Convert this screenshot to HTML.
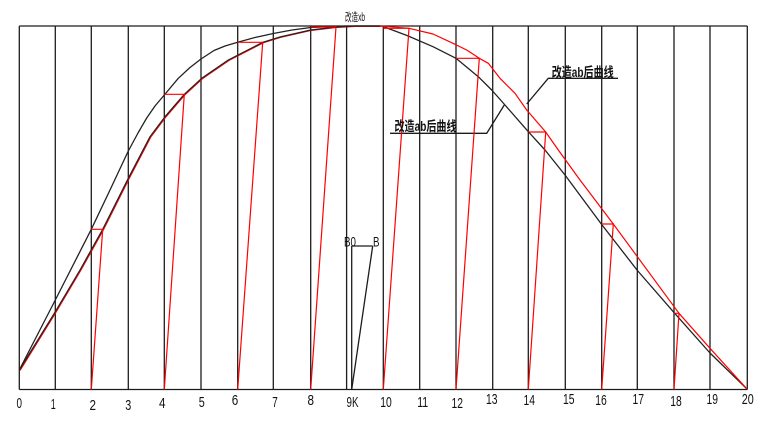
<!DOCTYPE html>
<html>
<head>
<meta charset="utf-8">
<style>
html,body{margin:0;padding:0;background:#fff;}
svg{display:block;}
.num{font-family:"Liberation Sans",sans-serif;font-size:15px;fill:#111;}
.cjk{font-family:"Liberation Sans","Noto Sans CJK SC",sans-serif;fill:#111;}
</style>
</head>
<body>
<svg width="771" height="426" viewBox="0 0 771 426" xmlns="http://www.w3.org/2000/svg">
<rect width="771" height="426" fill="#fff"/>
<g stroke="#1c1c1c" stroke-width="1.3" fill="none">
  <line x1="19.3" y1="26" x2="747.3" y2="26"/>
  <line x1="19.3" y1="389.5" x2="747.3" y2="389.5"/>
  <line x1="19.3" y1="26" x2="19.3" y2="389.5"/>
  <line x1="55.3" y1="26" x2="55.3" y2="389.5"/>
  <line x1="91.3" y1="26" x2="91.3" y2="389.5"/>
  <line x1="128.3" y1="26" x2="128.3" y2="389.5"/>
  <line x1="164.3" y1="26" x2="164.3" y2="389.5"/>
  <line x1="201" y1="26" x2="201" y2="389.5"/>
  <line x1="237.7" y1="26" x2="237.7" y2="389.5"/>
  <line x1="273.3" y1="26" x2="273.3" y2="389.5"/>
  <line x1="310.7" y1="26" x2="310.7" y2="389.5"/>
  <line x1="346.6" y1="26" x2="346.6" y2="389.5"/>
  <line x1="351.7" y1="246" x2="351.7" y2="389.5"/>
  <line x1="383.3" y1="26" x2="383.3" y2="389.5"/>
  <line x1="419.7" y1="26" x2="419.7" y2="389.5"/>
  <line x1="456" y1="26" x2="456" y2="389.5"/>
  <line x1="492.7" y1="26" x2="492.7" y2="389.5"/>
  <line x1="528.3" y1="26" x2="528.3" y2="389.5"/>
  <line x1="565.3" y1="26" x2="565.3" y2="389.5"/>
  <line x1="601.7" y1="26" x2="601.7" y2="389.5"/>
  <line x1="637.3" y1="26" x2="637.3" y2="389.5"/>
  <line x1="674" y1="26" x2="674" y2="389.5"/>
  <line x1="710" y1="26" x2="710" y2="389.5"/>
  <line x1="747.3" y1="26" x2="747.3" y2="389.5"/>
  <line x1="351.7" y1="246" x2="372.7" y2="246"/>
  <line x1="351.7" y1="389.5" x2="372.7" y2="246"/>
  <polyline points="526.7,104 548.3,78.3 618,78.3"/>
  <polyline points="504.3,105 486.7,133.3 390,133.3"/>
</g>

<!-- upper black curve -->
<polyline fill="none" stroke="#222" stroke-width="1.3" stroke-linejoin="round" points="19.3,370 55.3,300 91.3,229.3 110,190 128.3,151 138,133 146.7,118 155,106 164.3,95 178.3,78.3 190,67.5 201,59 214,50.5 225,46 237.7,42.3 255,37.5 273.3,33.5 292,30 310.7,27.5 346,26 381.7,26 407,35.5 433,46.7 456,58.3 478.3,76.7 491.7,90 505,105 527.7,131 545,150 565,175 601.3,224 637,270 674.7,313.3 710,353 747,389"/>

<!-- red curve left (under black overlay) -->
<polyline fill="none" stroke="#ff0000" stroke-width="1.1" stroke-linejoin="round" transform="translate(0.8,0.4)" points="19.3,370 55.3,311.7 80,270 102.7,229.3 128.3,178.3 150,136.7 165,116.7 184.3,94.3 201.7,78.3 228.3,60 262.7,42.3 280,37 310.7,30 336,27 355,26 379.3,26"/>
<!-- lower-left black overlay -->
<polyline fill="none" stroke="#222" stroke-width="1.2" stroke-linejoin="round" points="19.3,370 55.3,311.7 80,270 102.7,229.3 128.3,178.3 150,136.7 165,116.7 184.3,94.3 201.7,78.3 228.3,60 262.7,42.3 280,37 310.7,30 336,27 355,26 380,26"/>

<!-- red curve right -->
<polyline fill="none" stroke="#ff0000" stroke-width="1.2" stroke-linejoin="round" points="380,26 409,28.3 433,34 453,43.3 466.7,50 479.3,58.3 488.3,63.3 500,78.3 515,93.3 526.7,110 545.7,132 558.3,150 580,180 613.3,224 679,313.3 710,348.3 747,389"/>

<!-- red drop lines -->
<g fill="none" stroke="#ff0000" stroke-width="1.2">
  <path d="M91.3,229.3 H102.7 L91.3,389.5"/>
  <path d="M164.3,94.3 H184.3 L164.3,389.5"/>
  <path d="M237.7,42.3 H262.7 L237.7,389.5"/>
  <path d="M310.7,27 H336 L310.7,389.5"/>
  <path d="M383.3,28.3 H409 L383.3,389.5"/>
  <path d="M456,58.3 H479.3 L456,389.5"/>
  <path d="M528.3,132 H545.7 L528.3,389.5"/>
  <path d="M601.7,224 H613.3 L601.7,389.5"/>
  <path d="M674,313.3 H679 L674,389.5"/>
</g>

<!-- axis labels -->
<g class="num" text-anchor="middle">
  <text x="19.3" y="408" textLength="5.5" lengthAdjust="spacingAndGlyphs">0</text>
  <text x="53.3" y="409" textLength="5" lengthAdjust="spacingAndGlyphs">1</text>
  <text x="92.7" y="410" textLength="6.5" lengthAdjust="spacingAndGlyphs">2</text>
  <text x="128.3" y="410" textLength="6" lengthAdjust="spacingAndGlyphs">3</text>
  <text x="162.3" y="408" textLength="6.5" lengthAdjust="spacingAndGlyphs">4</text>
  <text x="201.7" y="407" textLength="6" lengthAdjust="spacingAndGlyphs">5</text>
  <text x="235" y="405" textLength="6.5" lengthAdjust="spacingAndGlyphs">6</text>
  <text x="275" y="407" textLength="5.5" lengthAdjust="spacingAndGlyphs">7</text>
  <text x="310.7" y="405" textLength="6.5" lengthAdjust="spacingAndGlyphs">8</text>
  <text x="352.5" y="407" textLength="12" lengthAdjust="spacingAndGlyphs">9K</text>
  <text x="386" y="407" textLength="11.5" lengthAdjust="spacingAndGlyphs">10</text>
  <text x="422.7" y="407" textLength="11" lengthAdjust="spacingAndGlyphs">11</text>
  <text x="457.3" y="408" textLength="11.5" lengthAdjust="spacingAndGlyphs">12</text>
  <text x="491.7" y="404" textLength="11.5" lengthAdjust="spacingAndGlyphs">13</text>
  <text x="529.3" y="405" textLength="11.5" lengthAdjust="spacingAndGlyphs">14</text>
  <text x="568.7" y="404" textLength="11.5" lengthAdjust="spacingAndGlyphs">15</text>
  <text x="601" y="405" textLength="11.5" lengthAdjust="spacingAndGlyphs">16</text>
  <text x="638.3" y="404" textLength="11.5" lengthAdjust="spacingAndGlyphs">17</text>
  <text x="676" y="406" textLength="11.5" lengthAdjust="spacingAndGlyphs">18</text>
  <text x="712.3" y="404" textLength="11.5" lengthAdjust="spacingAndGlyphs">19</text>
  <text x="747.7" y="404" textLength="12" lengthAdjust="spacingAndGlyphs">20</text>
</g>

<g class="num">
  <text x="344" y="246.5" font-size="14" textLength="12" lengthAdjust="spacingAndGlyphs">B0</text>
  <text x="373" y="246.5" font-size="14" textLength="6.5" lengthAdjust="spacingAndGlyphs">B</text>
</g>

<text class="cjk" x="345" y="21" font-size="11.5" textLength="20" lengthAdjust="spacingAndGlyphs">改造xb</text>
<text class="cjk" x="551.7" y="77" font-size="13.5" font-weight="bold" textLength="62" lengthAdjust="spacingAndGlyphs">改造ab后曲线</text>
<text class="cjk" x="394.5" y="131" font-size="13.5" font-weight="bold" textLength="62" lengthAdjust="spacingAndGlyphs">改造ab后曲线</text>
</svg>
</body>
</html>
